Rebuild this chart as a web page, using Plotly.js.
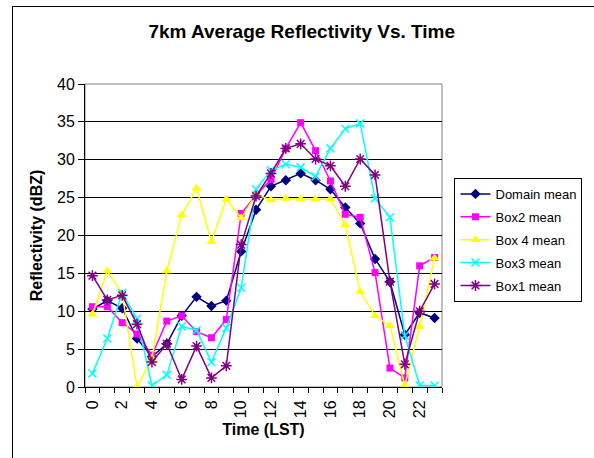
<!DOCTYPE html>
<html><head><meta charset="utf-8">
<script src="https://cdn.plot.ly/plotly-3.0.1.min.js"></script>
<style>
body{margin:0;padding:0;background:#fff;}
#frame{position:absolute;left:12px;top:6px;width:620px;height:480px;border:1px solid #000;box-sizing:border-box;}
#chart{position:absolute;left:0;top:0;width:594px;height:458px;}
</style></head>
<body>
<div id="frame"></div>
<div id="chart"></div>
<script>
const hours = [0,1,2,3,4,5,6,7,8,9,10,11,12,13,14,15,16,17,18,19,20,21,22,23];
const domainMean = [10.3,11.4,10.4,6.4,4.0,5.7,9.4,11.9,10.7,11.4,17.9,23.4,26.5,27.3,28.2,27.3,26.1,23.7,21.6,16.9,13.9,6.9,9.8,9.1];
const box2Mean   = [10.6,10.6,8.5,7.0,4.2,8.7,9.4,7.3,6.5,8.9,22.9,25.3,27.4,31.5,34.9,31.2,27.2,22.8,22.4,15.1,2.5,1.2,16.0,17.1];
const box4Mean   = [9.6,15.3,12.3,0.0,3.8,15.3,22.7,26.2,19.2,24.8,22.3,25.4,24.7,24.9,24.8,24.8,24.8,21.4,12.6,9.4,8.1,0.2,8.0,17.0];
const box3Mean   = [1.8,6.4,12.4,9.0,0.2,1.6,8.0,7.5,3.3,7.8,13.1,26.1,28.6,29.4,29.0,27.8,31.5,34.1,34.8,24.9,22.4,6.8,0.2,0.2];
const box1Mean   = [14.7,11.5,12.1,8.3,3.3,5.7,1.0,5.4,1.2,2.8,18.8,25.2,28.2,31.5,32.1,30.1,29.2,26.5,30.1,28.0,13.9,3.0,10.0,13.6];
const xTickVals = [0,2,4,6,8,10,12,14,16,18,20,22];
const yTickVals = [0,5,10,15,20,25,30,35,40];

const FONT = 'Arial, "Liberation Sans", sans-serif';
function tr(name, y, color, symbol, size, open, grp){
  return {x:hours, y:y, name:name, type:'scatter', mode:'lines+markers', legendgroup:grp,
    line:{color:color, width:1.5},
    marker:{symbol:symbol, size:size, color:color, line:{color:color, width: open?1.5:0}}};
}
const data = [
  tr('Domain mean', domainMean, '#000080', 'diamond', 8, false, 'a'),
  tr('Box2 mean', box2Mean, '#FF00FF', 'square', 7, false, 'b'),
  tr('Box 4 mean', box4Mean, '#FFFF00', 'triangle-up', 9, false, 'c'),
  tr('Box3 mean', box3Mean, '#00FFFF', 'x-thin-open', 8, true, 'd'),
  tr('Box1 mean', box1Mean, '#800080', 'asterisk-open', 9, true, 'e')
];
const layout = {
  width:594, height:458,
  margin:{l:85, r:138, t:84, b:71},
  paper_bgcolor:'rgba(0,0,0,0)', plot_bgcolor:'#fff',
  font:{family:FONT, size:16, color:'#000'},
  title:{text:'<b>7km Average Reflectivity Vs. Time</b>', font:{size:19, family:FONT}, x:0.508, xref:'container', y:0.931, yref:'container', yanchor:'middle'},
  xaxis:{range:[-0.5,23.5], tickmode:'array', tickvals:xTickVals, ticktext:xTickVals.map(String), tickangle:-90,
    ticks:'', showgrid:false, zeroline:false, showline:true, linecolor:'#000', linewidth:1,
    minor:{ticks:'outside', tick0:-0.5, dtick:1, ticklen:5, tickcolor:'#000', tickwidth:1, showgrid:false},
    tickfont:{size:16}, ticklabelstandoff:6,
    title:{text:'<b>Time (LST)</b>', font:{size:16}, standoff:6}},
  yaxis:{range:[0,40], tickmode:'array', tickvals:yTickVals, ticks:'outside', ticklen:6, tickcolor:'#000',
    showgrid:true, gridcolor:'#000', gridwidth:1, zeroline:false, showline:true, linecolor:'#000', linewidth:1,
    tickfont:{size:16},
    title:{text:'<b>Reflectivity (dBZ)</b>', font:{size:16}, standoff:10}},
  shapes:[{type:'rect', xref:'paper', yref:'paper', x0:0, x1:1, y0:0, y1:1, line:{color:'#808080', width:1}, layer:'below'}],
  legend:{x:1.035, xanchor:'left', y:0.69, yanchor:'top', bordercolor:'#000', borderwidth:1, bgcolor:'#fff',
    font:{size:13}, tracegroupgap:3, itemwidth:30}
};
Plotly.newPlot('chart', data, layout, {displayModeBar:false, staticPlot:true});
</script>
</body></html>
